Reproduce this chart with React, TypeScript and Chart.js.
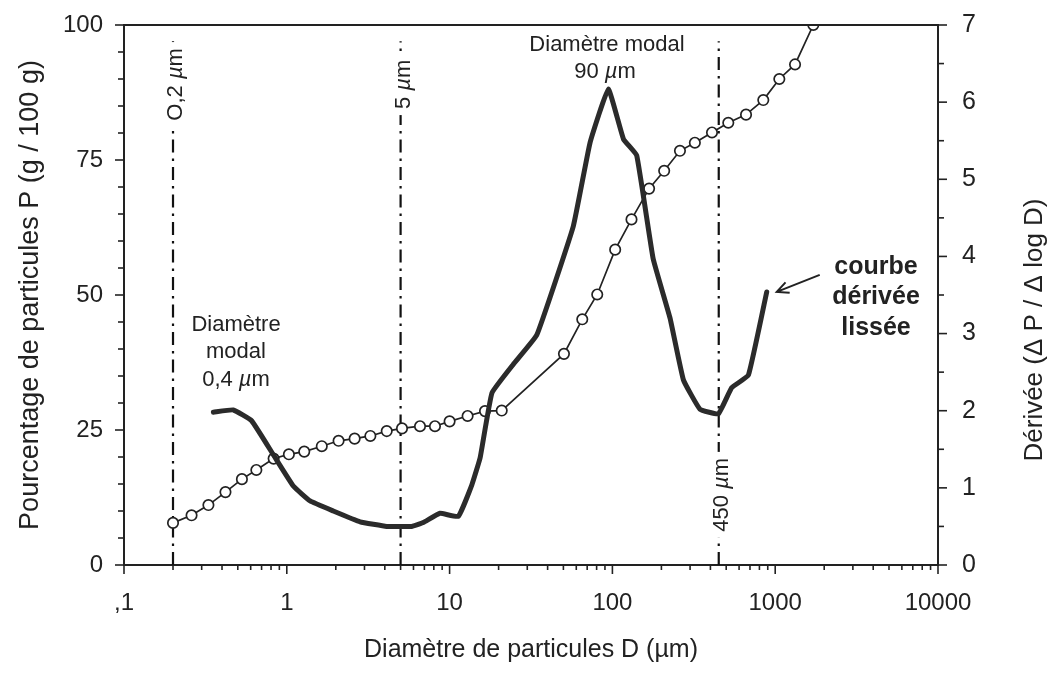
import React, { useEffect, useRef } from "react";
import { Chart, registerables } from "chart.js";

Chart.register(...registerables);

// ---------- DATA ----------
// Cumulative curve (open circles), left axis: percentage P (g / 100 g)
const cumulativeDiameters = [
  0.2, 0.26, 0.33, 0.42, 0.53, 0.65, 0.83, 1.03, 1.28, 1.64, 2.08, 2.61, 3.26, 4.11, 5.1,
  6.58, 8.13, 10.0, 12.9, 16.5, 20.9, 50.4, 65.3, 80.7, 104, 131, 168, 208, 260, 321, 409,
  515, 662, 845, 1060, 1324, 1714,
];
const cumulativePercent = [
  7.8, 9.2, 11.1, 13.5, 15.9, 17.6, 19.7, 20.5, 21.0, 22.0, 23.0, 23.4, 23.9, 24.8, 25.3,
  25.7, 25.7, 26.6, 27.6, 28.5, 28.6, 39.1, 45.5, 50.1, 58.4, 64.0, 69.7, 73.0, 76.7, 78.2,
  80.1, 81.9, 83.4, 86.1, 90.0, 92.7, 100,
];

// Smoothed derivative curve (thick line), right axis: ΔP / Δlog D
const derivativeDiameters = [
  0.354, 0.469, 0.608, 0.826, 1.1, 1.39, 1.93, 2.82, 4.11, 5.85, 6.89, 8.73, 11.3, 13.7, 15.4,
  18.2, 24.6, 34.3, 57.5, 72.8, 94.4, 117, 141, 178, 226, 273, 345, 448, 541, 684, 887,
];
const derivativeValues = [
  1.98, 2.01, 1.87, 1.43, 1.02, 0.83, 0.7, 0.56, 0.5, 0.5, 0.55, 0.67, 0.63, 1.04, 1.39,
  2.23, 2.6, 2.98, 4.39, 5.47, 6.17, 5.52, 5.31, 3.97, 3.2, 2.4, 2.02, 1.96, 2.3, 2.46, 3.54,
];

// Vertical dash-dot reference diameters
const referenceDiameters = [0.2, 5, 450];
const referenceLabels = ["O,2 ", "5 ", "450 "];
const referenceTop = 97; // top of the dash-dot lines, in % of left axis

// Axis ticks
const xMajorTicks = [0.1, 1, 10, 100, 1000, 10000];
const xMajorLabels = [",1", "1", "10", "100", "1000", "10000"];
const leftMajorTicks = [0, 25, 50, 75, 100];
const rightMajorTicks = [0, 1, 2, 3, 4, 5, 6, 7];

// Titles
const xTitle = "Diamètre de particules D (µm)";
const leftTitle = "Pourcentage de particules P (g / 100 g)";
const rightTitle = "Dérivée (Δ P / Δ log D)";

// ---------- STYLE ----------
const INK = "#222222";
const FAMILY = '"Liberation Sans", Arial, Helvetica, sans-serif';
const W = 1057;
const H = 675;
const AREA = { left: 124, right: 938, top: 25, bottom: 565 };

type Seg = { t: string; italic?: boolean };

function drawRich(
  ctx: CanvasRenderingContext2D,
  segs: Seg[],
  x: number,
  y: number,
  size: number,
  bold = false
) {
  const fontFor = (s: Seg) =>
    `${s.italic ? "italic " : ""}${bold ? "bold " : ""}${size}px ${FAMILY}`;
  let total = 0;
  const widths = segs.map((s) => {
    ctx.font = fontFor(s);
    const w = ctx.measureText(s.t).width;
    total += w;
    return w;
  });
  let cx = x - total / 2;
  ctx.textAlign = "left";
  ctx.textBaseline = "middle";
  segs.forEach((s, i) => {
    ctx.font = fontFor(s);
    ctx.fillText(s.t, cx, y);
    cx += widths[i];
  });
  return total;
}

const xTickValues: number[] = (() => {
  const out: number[] = [];
  for (let e = -1; e < 4; e++) {
    const d = Math.pow(10, e);
    for (let m = 1; m < 10; m++) out.push(parseFloat((m * d).toPrecision(6)));
  }
  out.push(10000);
  return out;
})();

const annotationPlugin = {
  id: "annotations",
  afterDraw(chart: any) {
    const { ctx, chartArea: a, scales } = chart;
    const x = scales.x;
    const yL = scales.y;
    const yR = scales.yRight;
    ctx.save();
    ctx.strokeStyle = INK;
    ctx.fillStyle = INK;
    ctx.lineCap = "butt";

    // top frame line
    ctx.lineWidth = 2;
    ctx.beginPath();
    ctx.moveTo(a.left - 1, a.top);
    ctx.lineTo(a.right + 1, a.top);
    ctx.stroke();

    // tick marks
    ctx.lineWidth = 1.6;
    xTickValues.forEach((v) => {
      const px = x.getPixelForValue(v);
      const major = xMajorTicks.some((m) => Math.abs(m - v) < 1e-9);
      const len = major ? 9 : 5;
      ctx.beginPath();
      ctx.moveTo(px, a.bottom);
      ctx.lineTo(px, a.bottom + len);
      ctx.stroke();
    });
    for (let v = 0; v <= 100; v += 5) {
      const py = yL.getPixelForValue(v);
      const len = leftMajorTicks.includes(v) ? 9 : 6;
      ctx.beginPath();
      ctx.moveTo(a.left, py);
      ctx.lineTo(a.left - len, py);
      ctx.stroke();
    }
    for (let v = 0; v <= 7; v += 0.5) {
      const py = yR.getPixelForValue(v);
      const len = rightMajorTicks.includes(v) ? 9 : 6;
      ctx.beginPath();
      ctx.moveTo(a.right, py);
      ctx.lineTo(a.right + len, py);
      ctx.stroke();
    }

    // labels on reference lines (rotated), with a white gap in the line
    const refLabelY = [yL.getPixelForValue(89), yL.getPixelForValue(89), yL.getPixelForValue(13)];
    const rs = 22;
    referenceDiameters.forEach((d, i) => {
      const px = x.getPixelForValue(d) + 3;
      const py = refLabelY[i];
      ctx.save();
      ctx.translate(px, py);
      ctx.rotate(-Math.PI / 2);
      ctx.font = `${rs}px ${FAMILY}`;
      const w1 = ctx.measureText(referenceLabels[i]).width;
      ctx.font = `italic ${rs}px ${FAMILY}`;
      const w2 = ctx.measureText("µ").width;
      ctx.font = `${rs}px ${FAMILY}`;
      const w3 = ctx.measureText("m").width;
      const tw = w1 + w2 + w3;
      ctx.fillStyle = "#ffffff";
      ctx.fillRect(-tw / 2 - 6, -13, tw + 12, 26);
      ctx.fillStyle = INK;
      drawRich(ctx, [{ t: referenceLabels[i] }, { t: "µ", italic: true }, { t: "m" }], 0, 0, rs);
      ctx.restore();
    });

    // right axis title, reading bottom to top
    ctx.save();
    ctx.translate(1035, 330);
    ctx.rotate(-Math.PI / 2);
    ctx.fillStyle = INK;
    drawRich(ctx, [{ t: rightTitle }], 0, 0, 26);
    ctx.restore();

    // text annotations
    ctx.fillStyle = INK;
    drawRich(ctx, [{ t: "Diamètre modal" }], 607, 45, 22);
    drawRich(ctx, [{ t: "90 " }, { t: "µ", italic: true }, { t: "m" }], 605, 72, 22);
    drawRich(ctx, [{ t: "Diamètre" }], 236, 325, 22);
    drawRich(ctx, [{ t: "modal" }], 236, 352, 22);
    drawRich(ctx, [{ t: "0,4 " }, { t: "µ", italic: true }, { t: "m" }], 236, 380, 22);
    drawRich(ctx, [{ t: "courbe" }], 876, 267, 25, true);
    drawRich(ctx, [{ t: "dérivée" }], 876, 297, 25, true);
    drawRich(ctx, [{ t: "lissée" }], 876, 328, 25, true);

    // arrow pointing to the end of the derivative curve
    const last = derivativeDiameters.length - 1;
    const ex = x.getPixelForValue(derivativeDiameters[last]);
    const ey = yR.getPixelForValue(derivativeValues[last]);
    const tipX = ex + 10;
    const tipY = ey;
    const tailX = tipX + 43;
    const tailY = tipY - 17;
    const ang = Math.atan2(tipY - tailY, tipX - tailX);
    ctx.lineWidth = 2;
    ctx.beginPath();
    ctx.moveTo(tailX, tailY);
    ctx.lineTo(tipX, tipY);
    ctx.moveTo(tipX - 13 * Math.cos(ang - 0.45), tipY - 13 * Math.sin(ang - 0.45));
    ctx.lineTo(tipX, tipY);
    ctx.lineTo(tipX - 13 * Math.cos(ang + 0.45), tipY - 13 * Math.sin(ang + 0.45));
    ctx.stroke();

    ctx.restore();
  },
};

export default function App() {
  const canvasRef = useRef<HTMLCanvasElement | null>(null);

  useEffect(() => {
    const canvas = canvasRef.current;
    if (!canvas) return;

    const referenceDatasets = referenceDiameters.map((d) => ({
      type: "line" as const,
      data: [
        { x: d, y: 0 },
        { x: d, y: referenceTop },
      ],
      yAxisID: "y",
      borderColor: "#111111",
      borderWidth: 2.2,
      borderDash: [13, 6, 2.5, 6],
      pointRadius: 0,
      fill: false,
    }));

    const chart = new Chart(canvas, {
      type: "line",
      data: {
        datasets: [
          {
            data: derivativeDiameters.map((d, i) => ({ x: d, y: derivativeValues[i] })),
            yAxisID: "yRight",
            borderColor: "#2b2b2b",
            borderWidth: 5,
            borderJoinStyle: "round",
            borderCapStyle: "round",
            pointRadius: 0,
            tension: 0.1,
            fill: false,
          },
          {
            data: cumulativeDiameters.map((d, i) => ({ x: d, y: cumulativePercent[i] })),
            yAxisID: "y",
            borderColor: INK,
            borderWidth: 1.7,
            pointRadius: 5.2,
            pointBorderWidth: 1.7,
            pointBackgroundColor: "#ffffff",
            pointBorderColor: INK,
            tension: 0,
            fill: false,
          },
          ...referenceDatasets,
        ] as any,
      },
      options: {
        responsive: false,
        animation: false,
        events: [],
        layout: { padding: { top: AREA.top, left: 0, right: 0, bottom: 0 } },
        plugins: {
          legend: { display: false },
          tooltip: { enabled: false },
        },
        scales: {
          x: {
            type: "logarithmic",
            position: "bottom",
            min: 0.1,
            max: 10000,
            afterBuildTicks: (s: any) => {
              s.ticks = xTickValues.map((v) => ({ value: v }));
            },
            afterFit: (s: any) => {
              s.height = H - AREA.bottom;
              s.paddingLeft = 0;
              s.paddingRight = 0;
            },
            grid: { display: false, drawTicks: false },
            border: { display: true, color: INK, width: 2 },
            ticks: {
              autoSkip: false,
              maxRotation: 0,
              padding: 24,
              color: INK,
              font: { size: 24, family: FAMILY },
              callback: (v: any) => {
                const i = xMajorTicks.findIndex((m) => Math.abs(m - Number(v)) < 1e-9);
                return i >= 0 ? xMajorLabels[i] : "";
              },
            },
            title: {
              display: true,
              text: xTitle,
              color: INK,
              font: { size: 25, family: FAMILY },
              padding: { top: 4, bottom: 10 },
            },
          },
          y: {
            type: "linear",
            position: "left",
            min: 0,
            max: 100,
            afterFit: (s: any) => {
              s.width = AREA.left;
              s.paddingTop = 0;
              s.paddingBottom = 0;
            },
            grid: { display: false, drawTicks: false },
            border: { display: true, color: INK, width: 2 },
            ticks: {
              stepSize: 5,
              autoSkip: false,
              padding: 21,
              color: INK,
              font: { size: 24, family: FAMILY },
              callback: (v: any) => (leftMajorTicks.includes(Number(v)) ? String(v) : ""),
            },
            title: {
              display: true,
              text: leftTitle,
              color: INK,
              font: { size: 27, family: FAMILY },
              padding: { top: 14, bottom: 0 },
            },
          },
          yRight: {
            type: "linear",
            position: "right",
            min: 0,
            max: 7,
            afterFit: (s: any) => {
              s.width = W - AREA.right;
              s.paddingTop = 0;
              s.paddingBottom = 0;
            },
            grid: { display: false, drawTicks: false },
            border: { display: true, color: INK, width: 2 },
            ticks: {
              stepSize: 0.5,
              autoSkip: false,
              padding: 24,
              color: INK,
              font: { size: 25, family: FAMILY },
              callback: (v: any) => (rightMajorTicks.includes(Number(v)) ? String(v) : ""),
            },
            title: { display: false },
          },
        },
      } as any,
      plugins: [annotationPlugin],
    });

    return () => {
      chart.destroy();
    };
  }, []);

  return (
    <div style={{ position: "absolute", left: 0, top: 0, width: W, height: H, background: "#ffffff" }}>
      <canvas ref={canvasRef} width={W} height={H} style={{ display: "block" }} />
    </div>
  );
}
